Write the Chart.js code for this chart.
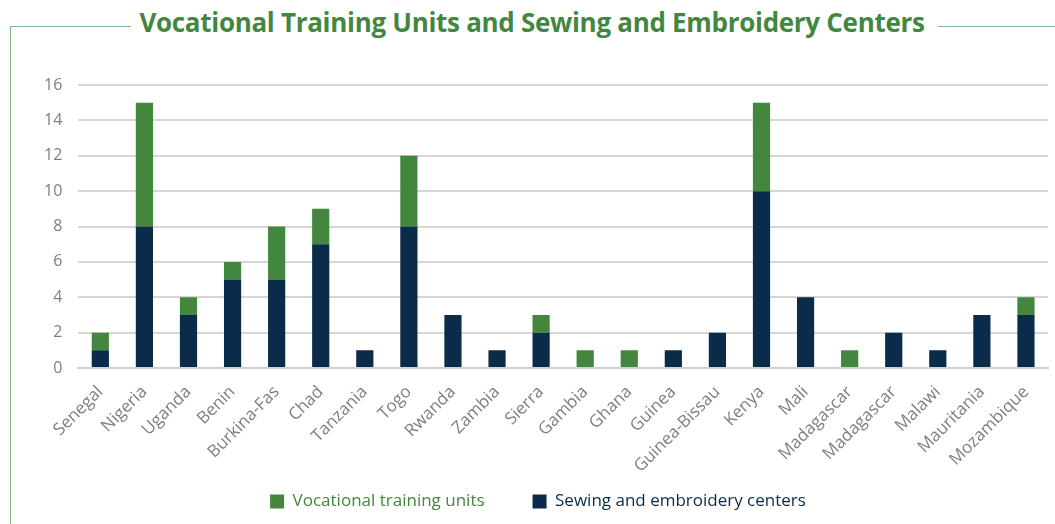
<!DOCTYPE html>
<html><head><meta charset="utf-8">
<script src="https://cdn.jsdelivr.net/npm/chart.js@4/dist/chart.umd.min.js"></script>
<style>
html,body{margin:0;padding:0;background:#fff;}
#wrap{position:relative;width:1055px;height:524px;overflow:hidden;}
#vline{position:absolute;left:10px;top:26px;width:1px;height:498px;background:#86b586;}
#lline{position:absolute;left:10px;top:26px;width:121px;height:1px;background:#86b586;}
#rline{position:absolute;left:938px;top:26px;width:117px;height:1px;background:#86b586;}
#title{position:absolute;left:0;width:1064px;top:4px;text-align:center;font-family:"Open Sans",sans-serif;font-weight:700;font-size:26px;color:#43873f;letter-spacing:-0.3px;}
canvas{position:absolute;left:0;top:0;}
</style></head>
<body><div id="wrap">
<div id="vline"></div><div id="lline"></div><div id="rline"></div>
<div id="title">Vocational Training Units and Sewing and Embroidery Centers</div>
<canvas id="c" width="1055" height="524"></canvas>
</div>
<script>
const categories = ["Senegal","Nigeria","Uganda","Benin","Burkina-Fas","Chad","Tanzania","Togo","Rwanda","Zambia","Sierra","Gambia","Ghana","Guinea","Guinea-Bissau","Kenya","Mali","Madagascar","Madagascar","Malawi","Mauritania","Mozambique"];
const sewingCenters = [1,8,3,5,5,7,1,8,3,1,2,0,0,1,2,10,4,0,2,1,3,3];
const vocationalUnits = [1,7,1,1,3,2,0,4,0,0,1,1,1,0,0,5,0,1,0,0,0,1];
const yTicks = [0,2,4,6,8,10,12,14,16];

const GREEN = "#43873f", NAVY = "#0b2b4a";
new Chart(document.getElementById('c'), {
  type: 'bar',
  data: {
    labels: categories,
    datasets: [
      {label: "Sewing and embroidery centers", data: sewingCenters, backgroundColor: NAVY, barPercentage: 0.39, categoryPercentage: 1},
      {label: "Vocational training units", data: vocationalUnits, backgroundColor: GREEN, barPercentage: 0.39, categoryPercentage: 1}
    ]
  },
  options: {
    responsive: false, animation: false,
    layout: {padding: {left: 28, right: 7, top: 85, bottom: 4}},
    plugins: {
      tooltip: {enabled: false},
      legend: {
        position: 'bottom', reverse: true,
        labels: {
          boxWidth: 14, boxHeight: 14, padding: 48,
          font: {family: "'Open Sans', sans-serif", size: 17},
          generateLabels(chart) {
            const items = Chart.defaults.plugins.legend.labels.generateLabels(chart);
            items.forEach(it => { it.fontColor = it.datasetIndex === 1 ? GREEN : NAVY; it.lineWidth = 0; });
            return items;
          }
        }
      }
    },
    scales: {
      x: {
        stacked: true,
        grid: {display: false},
        border: {color: '#d0d0d0', width: 2},
        afterFit(axis) { axis.height = 77; axis._computeLabelArea = () => undefined; },
        ticks: {color: '#7a7f86', minRotation: 45, maxRotation: 45, autoSkip: false, padding: 6,
                font: {family: "'Open Sans', sans-serif", size: 17}}
      },
      y: {
        stacked: true, min: 0, max: 16,
        afterBuildTicks(axis) { axis.ticks = yTicks.map(v => ({value: v})); },
        grid: {color: '#d6d6d6', lineWidth: 2, drawTicks: false},
        border: {display: false},
        ticks: {color: '#7a7f86', padding: 16, font: {family: "'Open Sans', sans-serif", size: 16}}
      }
    }
  }
});
</script>
</body></html>
